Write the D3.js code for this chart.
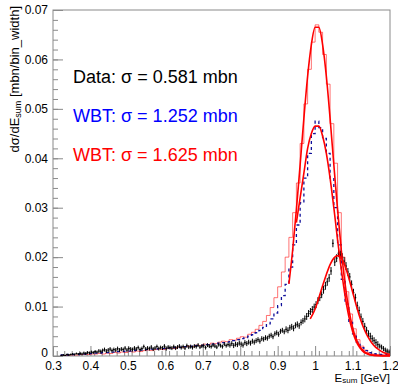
<!DOCTYPE html>
<html>
<head>
<meta charset="utf-8">
<script src="https://cdn.jsdelivr.net/npm/d3@7"></script>
<style>
  body { margin: 0; background: #fff; }
  text { font-family: "Liberation Sans", Arial, sans-serif; }
</style>
</head>
<body>
<div id="chart"></div>
<script>
// bin layout
var histStart = 0.32, histWidth = 0.01;   // WBT histograms
var dataStart = 0.32, dataWidth = 0.005;  // measured data

// WBT sigma = 1.252 mbn (blue, dashed)
var wbtBlue = [
    0.0002, 0.0002, 0.0003, 0.0003, 0.0003, 0.0004, 0.0004, 0.0005,
    0.0005, 0.0006, 0.0006, 0.0007, 0.0007, 0.0008, 0.0008, 0.0009, 0.0009, 0.0010,
    0.0010, 0.0011, 0.0012, 0.0012, 0.0013, 0.0013, 0.0014, 0.0014, 0.0015, 0.0015,
    0.0016, 0.0016, 0.0017, 0.0017, 0.0018, 0.0019, 0.0019, 0.0020, 0.0021, 0.0021,
    0.0022, 0.0023, 0.0024, 0.0025, 0.0026, 0.0027, 0.0028, 0.0029, 0.0031, 0.0033,
    0.0035, 0.0037, 0.0040, 0.0043, 0.0047, 0.0052, 0.0058, 0.0065, 0.0075, 0.0087,
    0.0102, 0.0122, 0.0145, 0.0180, 0.0225, 0.0265, 0.0310, 0.0360, 0.0410, 0.0450,
    0.0475, 0.0462, 0.0440, 0.0410, 0.0360, 0.0300, 0.0225, 0.0155, 0.0105, 0.0068,
    0.0045, 0.0028, 0.0017, 0.0011, 0.0007, 0.0005, 0.0004, 0.0003, 0.0003, 0.0002
];

// WBT sigma = 1.625 mbn (red)
var wbtRed = [
    0.0001, 0.0001, 0.0002, 0.0002, 0.0002, 0.0003, 0.0003, 0.0003,
    0.0004, 0.0004, 0.0005, 0.0004, 0.0006, 0.0005, 0.0007, 0.0006, 0.0008, 0.0007,
    0.0009, 0.0008, 0.0010, 0.0009, 0.0011, 0.0012, 0.0011, 0.0013, 0.0014, 0.0013,
    0.0015, 0.0016, 0.0015, 0.0018, 0.0017, 0.0019, 0.0020, 0.0019, 0.0022, 0.0021,
    0.0024, 0.0023, 0.0026, 0.0025, 0.0028, 0.0030, 0.0029, 0.0033, 0.0032, 0.0036,
    0.0039, 0.0038, 0.0044, 0.0048, 0.0054, 0.0062, 0.0070, 0.0082, 0.0098, 0.0118,
    0.0140, 0.0170, 0.0200, 0.0240, 0.0290, 0.0350, 0.0430, 0.0510, 0.0580, 0.0635,
    0.0670, 0.0655, 0.0610, 0.0550, 0.0470, 0.0390, 0.0290, 0.0200, 0.0130, 0.0085,
    0.0055, 0.0033, 0.0020, 0.0012, 0.0007, 0.0004, 0.0003, 0.0002, 0.0002, 0.0001
];

// data, sigma = 0.581 mbn
var dataVals = [
    0.0001, 0.0002, 0.0001, 0.0003, 0.0002, 0.0003, 0.0004, 0.0003, 0.0005, 0.0004,
    0.0005, 0.0004, 0.0006, 0.0005, 0.0007, 0.0006, 0.0008, 0.0007, 0.0009, 0.0008,
    0.0010, 0.0009, 0.0011, 0.0013, 0.0010, 0.0012, 0.0014, 0.0011, 0.0013, 0.0012,
    0.0015, 0.0012, 0.0014, 0.0013, 0.0016, 0.0012, 0.0015, 0.0014, 0.0013, 0.0016,
    0.0014, 0.0017, 0.0013, 0.0015, 0.0019, 0.0014, 0.0016, 0.0015, 0.0018, 0.0014,
    0.0016, 0.0019, 0.0015, 0.0017, 0.0016, 0.0020, 0.0015, 0.0018, 0.0017, 0.0016,
    0.0019, 0.0016, 0.0018, 0.0020, 0.0017, 0.0019, 0.0016, 0.0021, 0.0018, 0.0019,
    0.0017, 0.0020, 0.0019, 0.0022, 0.0018, 0.0020, 0.0021, 0.0017, 0.0022, 0.0020,
    0.0019, 0.0022, 0.0020, 0.0018, 0.0023, 0.0021, 0.0019, 0.0024, 0.0021, 0.0023,
    0.0022, 0.0025, 0.0021, 0.0024, 0.0023, 0.0026, 0.0024, 0.0022, 0.0027, 0.0025,
    0.0028, 0.0026, 0.0030, 0.0028, 0.0031, 0.0033, 0.0030, 0.0035, 0.0034, 0.0037,
    0.0036, 0.0040, 0.0042, 0.0039, 0.0045, 0.0047, 0.0044, 0.0050, 0.0052, 0.0049,
    0.0054, 0.0052, 0.0057, 0.0059, 0.0056, 0.0062, 0.0064, 0.0061, 0.0068, 0.0071,
    0.0075, 0.0080, 0.0086, 0.0090, 0.0094, 0.0099, 0.0104, 0.0112, 0.0118, 0.0124,
    0.0134, 0.0142, 0.0150, 0.0158, 0.0172, 0.0228, 0.0190, 0.0198, 0.0208, 0.0205,
    0.0200, 0.0192, 0.0182, 0.0170, 0.0160, 0.0145, 0.0128, 0.0118, 0.0102, 0.0092,
    0.0079, 0.0070, 0.0060, 0.0052, 0.0045, 0.0040, 0.0035, 0.0031, 0.0027, 0.0023,
    0.0020, 0.0018, 0.0015, 0.0012, 0.0010, 0.0008
];
// error size per group of 10 data bins
var dataErr = [0.0002, 0.0003, 0.0004, 0.0004, 0.0004, 0.0004, 0.0004, 0.0004, 0.0004,
               0.0005, 0.0005, 0.0005, 0.0006, 0.0007, 0.0008, 0.0008, 0.0007, 0.0005];

// fitted curves (x, y)
var fitRedX = [0.93, 0.94, 0.95, 0.96, 0.97, 0.98, 0.99, 1.00, 1.01, 1.02, 1.03, 1.04, 1.05, 1.06,
               1.07, 1.08, 1.09, 1.10, 1.11, 1.12, 1.13, 1.14, 1.15, 1.16, 1.18, 1.20];
var fitRedY = [0.0146, 0.0214, 0.0296, 0.0387, 0.0481, 0.0566, 0.0630, 0.0665, 0.0665, 0.0630,
               0.0566, 0.0481, 0.0387, 0.0296, 0.0214, 0.0146, 0.0095, 0.0058, 0.0034, 0.0019,
               0.0010, 0.0005, 0.0002, 0.0001, 0.0000, 0.0000];
var fitBlueX = [0.95, 0.96, 0.97, 0.98, 0.99, 1.00, 1.01, 1.02, 1.03, 1.04, 1.05, 1.06, 1.07,
                1.08, 1.09, 1.10, 1.11, 1.12, 1.13, 1.14, 1.15, 1.17, 1.20];
var fitBlueY = [0.0270, 0.0320, 0.0370, 0.0420, 0.0450, 0.0465, 0.0465, 0.0445, 0.0410, 0.0360,
                0.0300, 0.0235, 0.0175, 0.0122, 0.0080, 0.0050, 0.0029, 0.0016, 0.0008, 0.0004,
                0.0002, 0.0001, 0.0001];
var fitDataX = [0.987, 1.00, 1.01, 1.02, 1.03, 1.04, 1.05, 1.06, 1.07, 1.08, 1.09, 1.10, 1.11,
                1.12, 1.13, 1.14, 1.15, 1.16, 1.17, 1.18, 1.19, 1.20];
var fitDataY = [0.0075, 0.0095, 0.0118, 0.0142, 0.0165, 0.0185, 0.0198, 0.0203, 0.0198, 0.0182,
                0.0158, 0.0130, 0.0102, 0.0077, 0.0056, 0.0040, 0.0028, 0.0019, 0.0013, 0.0008,
                0.0005, 0.0003];

var xTicks = [0.3, 0.4, 0.5, 0.6, 0.7, 0.8, 0.9, 1.0, 1.1, 1.2];
var xTickLabels = ["0.3", "0.4", "0.5", "0.6", "0.7", "0.8", "0.9", "1", "1.1", "1.2"];
var yTicks = [0, 0.01, 0.02, 0.03, 0.04, 0.05, 0.06, 0.07];
var yTickLabels = ["0", "0.01", "0.02", "0.03", "0.04", "0.05", "0.06", "0.07"];

var legend = [
    {text: "Data: \u03c3 = 0.581 mbn", color: "#000000"},
    {text: "WBT: \u03c3 = 1.252 mbn", color: "#0000ff"},
    {text: "WBT: \u03c3 = 1.625 mbn", color: "#ff0000"}
];

var W = 398, H = 384;
var frame = {left: 53, right: 390, top: 10, bottom: 356};

var svg = d3.select("#chart").append("svg")
    .attr("width", W)
    .attr("height", H);

var x = d3.scaleLinear().domain([0.3, 1.2]).range([frame.left, frame.right]);
var y = d3.scaleLinear().domain([0, 0.07]).range([frame.bottom, frame.top]);

var axisColor = "#8a8a8a";

// minor ticks
var xMinor = d3.range(31, 120, 2).map(function(d) { return d / 100; });
var yMinor = d3.range(0, 71, 2).map(function(d) { return d / 1000; });

svg.append("g")
    .attr("transform", "translate(0," + frame.bottom + ")")
    .call(d3.axisBottom(x).tickValues(xMinor).tickSize(-5).tickFormat(""))
    .call(function(g) { g.select(".domain").remove(); });

svg.append("g")
    .attr("transform", "translate(" + frame.left + ",0)")
    .call(d3.axisLeft(y).tickValues(yMinor).tickSize(-5).tickFormat(""))
    .call(function(g) { g.select(".domain").remove(); });

// major ticks
svg.append("g")
    .attr("class", "xaxis")
    .attr("transform", "translate(0," + frame.bottom + ")")
    .call(d3.axisBottom(x).tickValues(xTicks).tickSize(-10).tickPadding(5)
        .tickFormat(function(d, i) { return xTickLabels[i]; }))
    .call(function(g) { g.select(".domain").remove(); });

svg.append("g")
    .attr("class", "yaxis")
    .attr("transform", "translate(" + frame.left + ",0)")
    .call(d3.axisLeft(y).tickValues(yTicks).tickSize(-10).tickPadding(5)
        .tickFormat(function(d, i) { return yTickLabels[i]; }))
    .call(function(g) { g.select(".domain").remove(); });

svg.selectAll(".tick line").attr("stroke", axisColor);
svg.selectAll(".tick text")
    .attr("fill", "#000")
    .style("font-size", "12px")
    .style("font-family", "'Liberation Sans', Arial, sans-serif");
// the "0" of the y axis sits a little higher, as in ROOT
svg.select(".yaxis").selectAll(".tick text")
    .filter(function(d) { return d === 0; })
    .attr("dy", "0.05em");

// frame
svg.append("rect")
    .attr("x", frame.left)
    .attr("y", frame.top)
    .attr("width", frame.right - frame.left)
    .attr("height", frame.bottom - frame.top)
    .attr("fill", "none")
    .attr("stroke", axisColor)
    .attr("stroke-width", 1);

// step outline of a histogram
function stepPoints(vals, start, w) {
    var pts = vals.map(function(v, i) { return [start + i * w, v]; });
    pts.push([start + vals.length * w, vals[vals.length - 1]]);
    return pts;
}
var stepLine = d3.line()
    .curve(d3.curveStepAfter)
    .x(function(d) { return x(d[0]); })
    .y(function(d) { return y(d[1]); });

var plot = svg.append("g");

plot.append("path")
    .datum(stepPoints(wbtRed, histStart, histWidth))
    .attr("d", stepLine)
    .attr("fill", "none")
    .attr("stroke", "#ff0000")
    .attr("stroke-opacity", 0.55)
    .attr("stroke-width", 1);

plot.append("path")
    .datum(stepPoints(wbtBlue, histStart, histWidth))
    .attr("d", stepLine)
    .attr("fill", "none")
    .attr("stroke", "#10109a")
    .attr("stroke-width", 1.3)
    .attr("stroke-dasharray", "3,3");

// data with error bars
var dataPts = dataVals.map(function(v, i) {
    return {x0: dataStart + i * dataWidth, v: v, e: dataErr[Math.floor(i / 10)]};
});

plot.selectAll(".errv")
    .data(dataPts)
    .enter()
    .append("line")
    .attr("x1", function(d) { return x(d.x0 + dataWidth / 2); })
    .attr("x2", function(d) { return x(d.x0 + dataWidth / 2); })
    .attr("y1", function(d) { return y(Math.max(0, d.v - d.e)); })
    .attr("y2", function(d) { return y(d.v + d.e); })
    .attr("stroke", "#000")
    .attr("stroke-width", 1);

plot.selectAll(".errh")
    .data(dataPts)
    .enter()
    .append("line")
    .attr("x1", function(d) { return x(d.x0); })
    .attr("x2", function(d) { return x(d.x0 + dataWidth); })
    .attr("y1", function(d) { return y(d.v); })
    .attr("y2", function(d) { return y(d.v); })
    .attr("stroke", "#000")
    .attr("stroke-width", 1);

// fits
var fitLine = d3.line()
    .curve(d3.curveMonotoneX)
    .x(function(d) { return x(d[0]); })
    .y(function(d) { return y(d[1]); });

[[fitRedX, fitRedY], [fitBlueX, fitBlueY], [fitDataX, fitDataY]].forEach(function(f) {
    plot.append("path")
        .datum(f[0].map(function(v, i) { return [v, f[1][i]]; }))
        .attr("d", fitLine)
        .attr("fill", "none")
        .attr("stroke", "#ff0000")
        .attr("stroke-width", 1.6);
});

// legend texts
svg.selectAll(".leg")
    .data(legend)
    .enter()
    .append("text")
    .attr("x", 73)
    .attr("y", function(d, i) { return 83 + i * 39; })
    .attr("fill", function(d) { return d.color; })
    .style("font-size", "18px")
    .text(function(d) { return d.text; });

// axis titles
var xt = svg.append("text")
    .attr("x", frame.right)
    .attr("y", 381.5)
    .attr("text-anchor", "end")
    .style("font-size", "11.5px");
xt.append("tspan").text("E");
xt.append("tspan").attr("baseline-shift", "-15%").style("font-size", "8px").text("sum");
xt.append("tspan").attr("baseline-shift", "0").text(" [GeV]");

var yt = svg.append("text")
    .attr("transform", "translate(19,6) rotate(-90)")
    .attr("text-anchor", "end")
    .style("font-size", "13px");
yt.append("tspan").text("d\u03c3/dE");
yt.append("tspan").attr("baseline-shift", "-25%").style("font-size", "9px").text("sum");
yt.append("tspan").text(" [mbn/bin_width]");
</script>
</body>
</html>
